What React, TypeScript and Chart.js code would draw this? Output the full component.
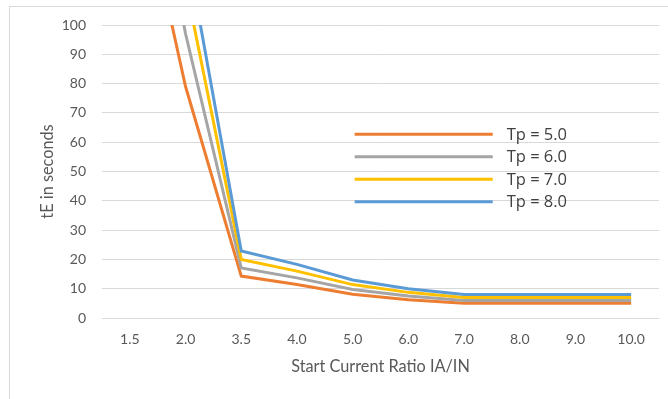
import React, { useEffect, useRef } from "react";
import { Chart, registerables } from "chart.js";

Chart.register(...registerables);

const categories = ["1.5", "2.0", "3.5", "4.0", "5.0", "6.0", "7.0", "8.0", "9.0", "10.0"];
const seriesLabels = ["Tp = 5.0", "Tp = 6.0", "Tp = 7.0", "Tp = 8.0"];
const tp5 = [165, 79, 14.3, 11.4, 8.1, 6.25, 5, 5, 5, 5];
const tp6 = [198, 97, 17.1, 13.7, 9.75, 7.5, 6, 6, 6, 6];
const tp7 = [231, 114, 20, 16, 11.4, 8.75, 7, 7, 7, 7];
const tp8 = [264, 128, 22.9, 18.3, 13, 10, 8, 8, 8, 8];
const seriesColors = ["#ED7D31", "#A5A5A5", "#FFC000", "#5B9BD5"];
const yTicksMin = 0;
const yTicksMax = 100;
const yTickStep = 10;

const legendPlugin = {
  id: "insideLegend",
  afterDatasetsDraw(chart: any) {
    const { ctx, chartArea } = chart;
    const w = chartArea.right - chartArea.left;
    const h = chartArea.bottom - chartArea.top;
    const x0 = chartArea.left + w * 0.4536;
    const x1 = chartArea.left + w * 0.7015;
    const tx = chartArea.left + w * 0.7265;
    const y0 = chartArea.top + h * 0.373;
    const dy = h * 0.0768;
    ctx.save();
    chart.data.datasets.forEach((ds: any, i: number) => {
      const y = y0 + i * dy;
      ctx.strokeStyle = ds.borderColor;
      ctx.lineWidth = 3;
      ctx.lineCap = "butt";
      ctx.beginPath();
      ctx.moveTo(x0, y);
      ctx.lineTo(x1, y);
      ctx.stroke();
      ctx.fillStyle = "#404040";
      ctx.font = "16.5px 'Open Sans'";
      ctx.textAlign = "left";
      ctx.textBaseline = "middle";
      ctx.fillText(ds.label, tx, y + 1);
    });
    ctx.restore();
  },
};

export default function App() {
  const ref = useRef<HTMLCanvasElement | null>(null);
  useEffect(() => {
    const seriesData = [tp5, tp6, tp7, tp8];
    const chart = new Chart(ref.current as HTMLCanvasElement, {
      type: "line",
      data: {
        labels: categories,
        datasets: seriesData.map((d, i) => ({
          label: seriesLabels[i],
          data: d,
          borderColor: seriesColors[i],
          backgroundColor: seriesColors[i],
          borderWidth: 3,
          pointRadius: 0,
          tension: 0,
          fill: false,
          order: seriesData.length - i,
        })),
      },
      options: {
        animation: false,
        responsive: false,
        maintainAspectRatio: false,
        layout: { padding: { left: 0, right: 9, top: 25, bottom: 0 } },
        plugins: {
          legend: { display: false },
          tooltip: { enabled: false },
          title: { display: false },
        },
        scales: {
          x: {
            type: "category",
            offset: true,
            grid: { display: false, drawTicks: false },
            border: { display: false },
            ticks: {
              color: "#595959",
              font: { family: "Lato", size: 14 },
              padding: 13,
              maxRotation: 0,
              autoSkip: false,
            },
            title: {
              display: true,
              text: "Start Current Ratio IA/IN",
              color: "#595959",
              font: { family: "Lato", size: 16.3 },
              padding: { top: 0, bottom: 22 },
            },
            afterFit(scale: any) {
              scale.height = 81;
            },
          },
          y: {
            min: yTicksMin,
            max: yTicksMax,
            grid: { color: "#D9D9D9", lineWidth: 1, drawTicks: false },
            border: { display: false },
            ticks: {
              stepSize: yTickStep,
              color: "#595959",
              font: { family: "Lato", size: 14 },
              padding: 16,
            },
            title: {
              display: true,
              text: "tE in seconds",
              color: "#595959",
              font: { family: "Lato", size: 16.3 },
              padding: { top: 38, bottom: 0 },
            },
            afterFit(scale: any) {
              scale.width = 102;
            },
          },
        },
      },
      plugins: [legendPlugin],
    });
    return () => chart.destroy();
  }, []);

  return (
    <div
      style={{
        position: "fixed",
        left: 0,
        top: 0,
        width: 668,
        height: 399,
        overflow: "hidden",
        background: "#ffffff",
      }}
    >
      <div
        style={{
          position: "absolute",
          left: 9,
          top: 6,
          width: 800,
          height: 600,
          border: "1px solid #D9D9D9",
          boxSizing: "border-box",
        }}
      />
      <canvas
        ref={ref}
        width={668}
        height={399}
        style={{ position: "absolute", left: 0, top: 0, width: 668, height: 399 }}
      />
    </div>
  );
}
